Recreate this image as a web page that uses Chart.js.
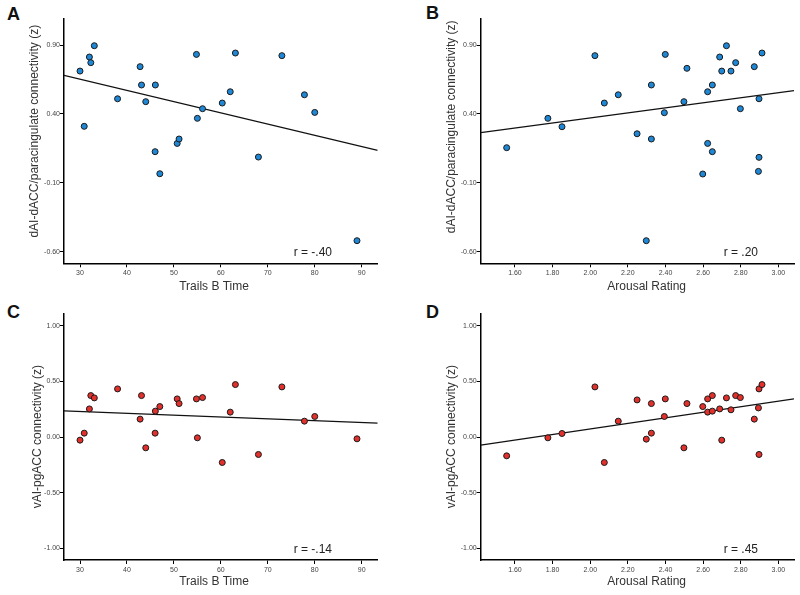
<!DOCTYPE html>
<html>
<head>
<meta charset="utf-8">
<title>Connectivity scatter plots</title>
<script src="https://cdn.jsdelivr.net/npm/chart.js@4.4.1/dist/chart.umd.min.js"></script>
<style>
  body { margin: 0; background: #fff; width: 800px; height: 595px; position: relative; overflow: hidden; }
  canvas { position: absolute; }
  .letter { position: absolute; font: bold 18px Arial, "Liberation Sans", sans-serif; line-height: 18px; color: #111; }
</style>
</head>
<body>
<div class="letter" style="left:7px;top:4.7px">A</div>
<div class="letter" style="left:426px;top:3.5px">B</div>
<div class="letter" style="left:7px;top:302.7px">C</div>
<div class="letter" style="left:426px;top:302.7px">D</div>

<canvas id="chart-a" width="400" height="297" style="left:0;top:0"></canvas>
<canvas id="chart-b" width="400" height="297" style="left:400px;top:0"></canvas>
<canvas id="chart-c" width="400" height="297" style="left:0;top:297px"></canvas>
<canvas id="chart-d" width="400" height="297" style="left:400px;top:297px"></canvas>

<script>
// Trails B time (x) for panels A and C
const trailsB = [30, 30.9, 32, 32.3, 33.05, 38, 42.8, 43.1, 44, 46.05, 46, 47, 50.7, 51.1, 54.8, 55, 56.1, 60.3, 62, 63.1, 68, 73, 77.8, 80, 89];
const dAIvsTrails = [0.711, 0.31, 0.813, 0.772, 0.895, 0.51, 0.743, 0.61, 0.489, 0.61, 0.126, -0.034, 0.186, 0.218, 0.832, 0.368, 0.438, 0.479, 0.561, 0.842, 0.087, 0.823, 0.539, 0.411, -0.52];
const vAIvsTrails = [-0.027, 0.036, 0.254, 0.374, 0.353, 0.434, 0.162, 0.374, -0.096, 0.234, 0.036, 0.275, 0.344, 0.302, 0.344, -0.006, 0.356, -0.228, 0.225, 0.473, -0.156, 0.452, 0.144, 0.186, -0.015];

// Arousal rating (x) for panels B and D
const arousal = [1.556, 1.775, 1.85, 2.025, 2.075, 2.149, 2.249, 2.298, 2.325, 2.325, 2.394, 2.399, 2.498, 2.514, 2.598, 2.624, 2.624, 2.649, 2.649, 2.688, 2.699, 2.724, 2.748, 2.773, 2.798, 2.872, 2.897, 2.897, 2.894, 2.913];
const dAIvsArousal = [0.155, 0.368, 0.307, 0.823, 0.479, 0.539, 0.256, -0.52, 0.61, 0.218, 0.409, 0.832, 0.489, 0.731, -0.036, 0.561, 0.186, 0.61, 0.126, 0.813, 0.711, 0.895, 0.711, 0.772, 0.438, 0.743, 0.51, 0.085, -0.017, 0.842];
const vAIvsArousal = [-0.168, -0.006, 0.033, 0.452, -0.228, 0.144, 0.335, -0.018, 0.302, 0.036, 0.186, 0.344, -0.096, 0.302, 0.275, 0.225, 0.344, 0.374, 0.234, 0.254, -0.027, 0.353, 0.246, 0.374, 0.356, 0.162, 0.434, -0.156, 0.263, 0.473];

// fit line values at the left and right ends of each x axis
const fitA = [0.68, 0.135];
const fitB = [0.264, 0.569];
const fitC = [0.2365, 0.126];
const fitD = [-0.072, 0.344];

// tick labels
const trailsTicks = [30, 40, 50, 60, 70, 80, 90];
const arousalTicks = [1.6, 1.8, 2.0, 2.2, 2.4, 2.6, 2.8, 3.0];
const dAITicks = [0.9, 0.4, -0.1, -0.6];
const vAITicks = [1.0, 0.5, 0.0, -0.5, -1.0];

const BLUE = '#1f88d6';
const RED = '#e2302c';
const FONT = 'Arial, "Liberation Sans", sans-serif';

// draws the axis titles and the "r = ..." text
// (axis titles are not quite centred on the axes in the original, so they are placed by hand)
const panelTextPlugin = {
  id: 'panelText',
  afterDatasetsDraw(chart, args, opts) {
    const { ctx, chartArea } = chart;
    const cx = (chartArea.left + chartArea.right) / 2;
    const cy = (chartArea.top + chartArea.bottom) / 2;
    ctx.save();

    ctx.font = '12px ' + FONT;
    ctx.fillStyle = '#222';
    ctx.textAlign = 'right';
    ctx.textBaseline = 'alphabetic';
    ctx.fillText(opts.rText, chartArea.right - opts.rRight, chartArea.bottom - 7);

    ctx.fillStyle = '#333';
    ctx.textAlign = 'center';
    ctx.textBaseline = 'middle';
    ctx.fillText(opts.xTitle, cx + opts.xShift, chartArea.bottom + opts.xGap);

    ctx.translate(chartArea.left - opts.yGap, cy + opts.yShift);
    ctx.rotate(-Math.PI / 2);
    ctx.fillText(opts.yTitle, 0, 0);
    ctx.restore();
  }
};

function axis(cfg) {
  return {
    type: 'linear',
    position: cfg.position,
    min: cfg.min,
    max: cfg.max,
    afterBuildTicks: (scale) => {
      scale.ticks = cfg.ticks.map(v => ({ value: v }));
    },
    afterFit: (scale) => {
      if (cfg.position === 'left') scale.width = cfg.size;
      else scale.height = cfg.size;
    },
    border: { display: true, color: '#000', width: 1.5 },
    grid: { drawOnChartArea: false, drawTicks: true, tickLength: 4, color: '#000', lineWidth: 1 },
    ticks: {
      padding: cfg.position === 'left' ? 0 : 2,
      color: '#444',
      font: { size: 7, family: FONT },
      callback: cfg.format
    }
  };
}

function makeChart(id, p) {
  const points = p.xs.map((x, i) => ({ x: x, y: p.ys[i] }));
  const fit = [{ x: p.xMin, y: p.fit[0] }, { x: p.xMax, y: p.fit[1] }];

  new Chart(document.getElementById(id), {
    type: 'scatter',
    data: {
      datasets: [{
        data: points,
        backgroundColor: p.color,
        borderColor: '#1a1a1a',
        borderWidth: 1,
        pointRadius: 3
      }, {
        type: 'line',
        data: fit,
        borderColor: '#111',
        borderWidth: 1.2,
        pointRadius: 0,
        fill: false
      }]
    },
    options: {
      responsive: false,
      animation: false,
      events: [],
      layout: { padding: p.padding },
      plugins: {
        legend: { display: false },
        tooltip: { enabled: false },
        panelText: {
          rText: p.rText, rRight: p.rRight,
          xTitle: p.xTitle, xShift: p.xShift, xGap: p.xGap,
          yTitle: p.yTitle, yShift: p.yShift, yGap: p.yGap
        }
      },
      scales: {
        x: axis({ position: 'bottom', min: p.xMin, max: p.xMax, ticks: p.xTicks, size: p.xSize, format: p.xFormat }),
        y: axis({ position: 'left', min: p.yMin, max: p.yMax, ticks: p.yTicks, size: p.ySize, format: v => v.toFixed(2) })
      }
    },
    plugins: [panelTextPlugin]
  });
}

const trailsX = { xs: trailsB, xMin: 26.59, xMax: 93.41, xTicks: trailsTicks, xTitle: 'Trails B Time', xFormat: v => String(v) };
const arousalX = { xs: arousal, xMin: 1.418, xMax: 3.083, xTicks: arousalTicks, xTitle: 'Arousal Rating', xFormat: v => v.toFixed(2) };
const dAIY = { yMin: -0.684, yMax: 1.094, yTicks: dAITicks, yTitle: 'dAI-dACC/paracingulate connectivity (z)', color: BLUE };
const vAIY = { yMin: -1.105, yMax: 1.114, yTicks: vAITicks, yTitle: 'vAI-pgACC connectivity (z)', color: RED };

makeChart('chart-a', Object.assign({}, trailsX, dAIY, {
  ys: dAIvsTrails, fit: fitA, rText: 'r = -.40', rRight: 45.7,
  xShift: -6.8, xGap: 23.4, yShift: -9.6, yGap: 29,
  padding: { left: 27.8, top: 18.3, right: 22.3, bottom: 3.1 }, ySize: 36.2, xSize: 30.6
}));

makeChart('chart-b', Object.assign({}, arousalX, dAIY, {
  ys: dAIvsArousal, fit: fitB, rText: 'r = .20', rRight: 36,
  xShift: 9.3, xGap: 23.4, yShift: -14, yGap: 29,
  padding: { left: 44.5, top: 18.3, right: 6, bottom: 3.1 }, ySize: 36.2, xSize: 30.6
}));

makeChart('chart-c', Object.assign({}, trailsX, vAIY, {
  ys: vAIvsTrails, fit: fitC, rText: 'r = -.14', rRight: 45.7,
  xShift: -6.8, xGap: 21.7, yShift: 0, yGap: 26.7,
  padding: { left: 29.8, top: 16.3, right: 22.3, bottom: 5.1 }, ySize: 34.2, xSize: 28.9
}));

makeChart('chart-d', Object.assign({}, arousalX, vAIY, {
  ys: vAIvsArousal, fit: fitD, rText: 'r = .45', rRight: 36,
  xShift: 9.3, xGap: 21.7, yShift: 0, yGap: 29,
  padding: { left: 44.5, top: 16.3, right: 6, bottom: 5.1 }, ySize: 36.2, xSize: 28.9
}));
</script>
</body>
</html>
